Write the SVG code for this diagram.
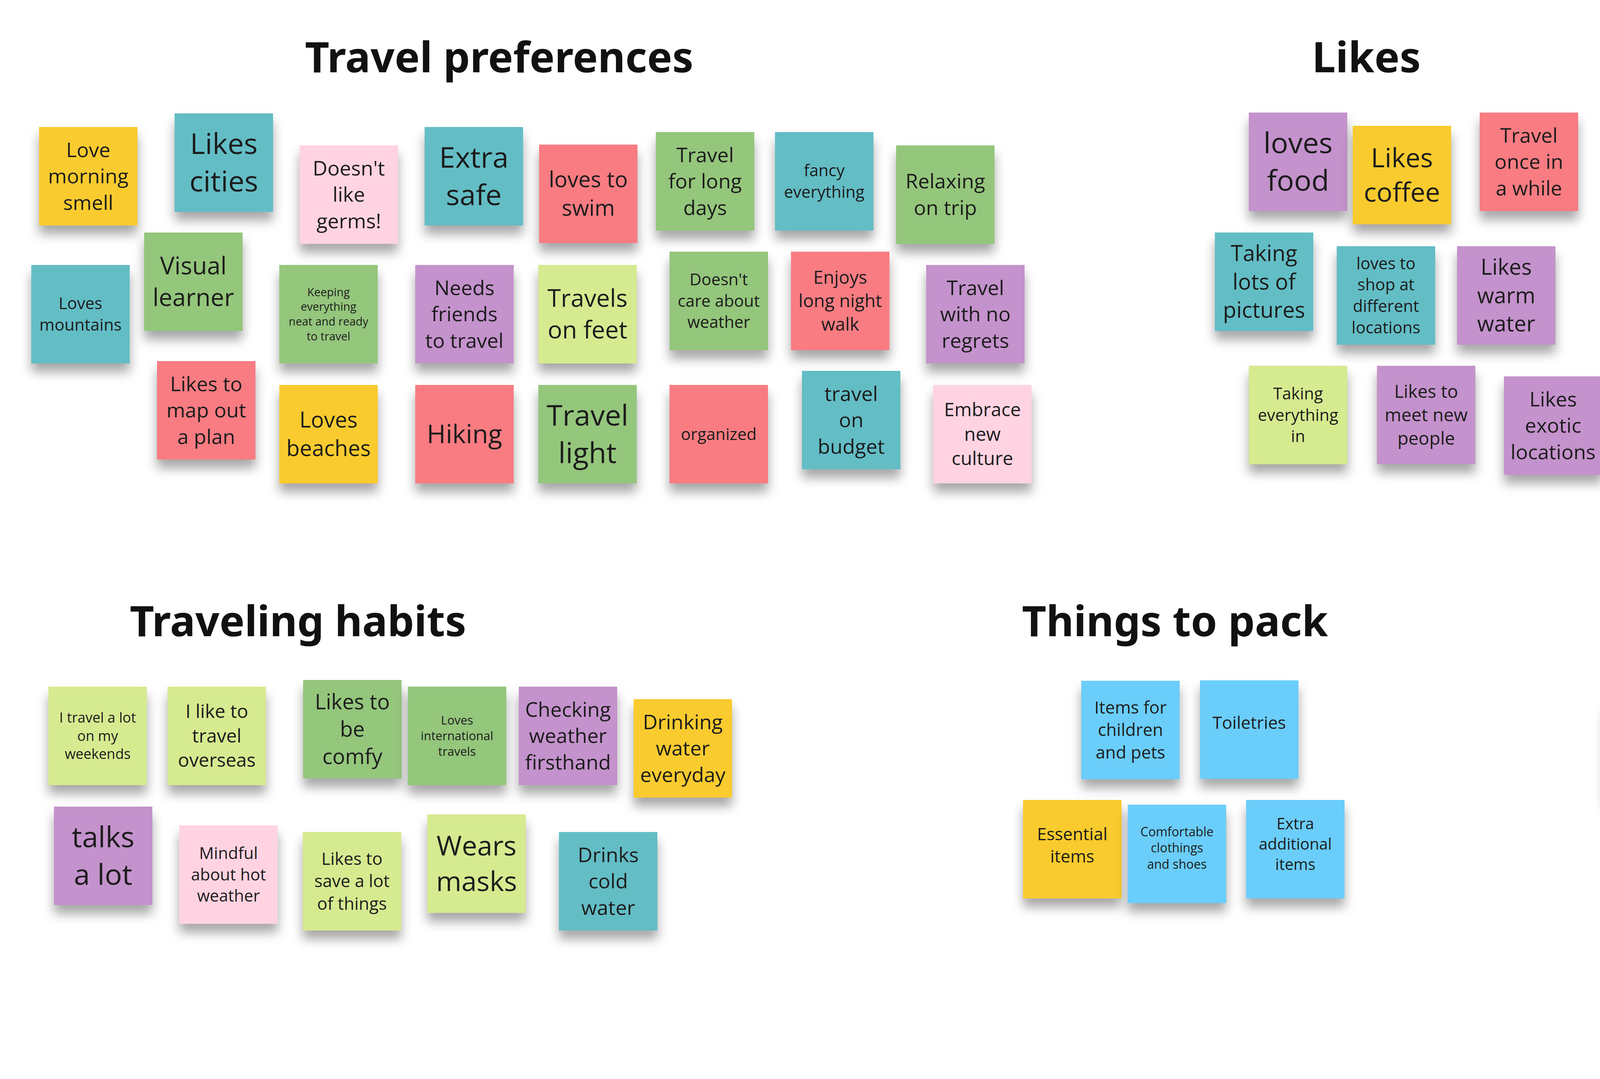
<svg xmlns="http://www.w3.org/2000/svg" width="7619" height="2761" viewBox="0 0 7619 2761">
<defs>
<filter id="sh" x="-20%" y="-20%" width="140%" height="150%"><feDropShadow dx="0" dy="22" stdDeviation="14" flood-color="#000" flood-opacity="0.35"/></filter>
</defs>
<style>
rect{filter:url(#sh)}
text{font-family:"Open Sans","Noto Sans",sans-serif;fill:#1c1c1c;text-anchor:middle}
.t{font-family:"Noto Sans","Open Sans",sans-serif;font-weight:bold;font-size:108px;fill:#111}
.y{fill:#F9CB2F}.c{fill:#63BDC5}.p{fill:#FFD3E2}.r{fill:#F87B82}.g{fill:#94C67C}.v{fill:#C492CC}.l{fill:#D6EA90}.b{fill:#6ACDFA}
.L{font-size:74px}.K{font-size:62px}.M{font-size:52px}.S{font-size:42px}.X{font-size:29px}
</style>
<rect width="7619" height="2761" fill="#fff" style="filter:none"/>
<g id="titles">
<text class="t" x="1278" y="185">Travel preferences</text>
<text class="t" x="3498" y="185">Likes</text>
<text class="t" x="4980" y="185">Dislikes</text>
<text class="t" x="6730" y="185">Features wanted</text>
<text class="t" x="763" y="1628">Traveling habits</text>
<text class="t" x="3008" y="1628">Things to pack</text>
<text class="t" x="4703" y="1628">Travelers</text>
</g>
<g id="connectors"/>
<g id="n1"><rect class="y" x="100" y="325" width="252" height="252"/><text class="M" x="226" y="451"><tspan x="226" dy="-0.95em">Love</tspan><tspan x="226" dy="1.3em">morning</tspan><tspan x="226" dy="1.3em">smell</tspan></text></g>
<g id="n2"><rect class="c" x="447" y="290" width="252" height="252"/><text class="L" x="573" y="416"><tspan x="573" dy="-0.3em">Likes</tspan><tspan x="573" dy="1.3em">cities</tspan></text></g>
<g id="n3"><rect class="p" x="767" y="372" width="252" height="252"/><text class="M" x="893" y="498"><tspan x="893" dy="-0.95em">Doesn't</tspan><tspan x="893" dy="1.3em">like</tspan><tspan x="893" dy="1.3em">germs!</tspan></text></g>
<g id="n4"><rect class="c" x="1087" y="325" width="252" height="252"/><text class="L" x="1213" y="451"><tspan x="1213" dy="-0.3em">Extra</tspan><tspan x="1213" dy="1.3em">safe</tspan></text></g>
<g id="n5"><rect class="r" x="1380" y="370" width="252" height="252"/><text class="K" x="1506" y="496" style="font-size:56px"><tspan x="1506" dy="-0.3em">loves to</tspan><tspan x="1506" dy="1.3em">swim</tspan></text></g>
<g id="n6"><rect class="g" x="1679" y="338" width="252" height="252"/><text class="M" x="1805" y="464"><tspan x="1805" dy="-0.95em">Travel</tspan><tspan x="1805" dy="1.3em">for long</tspan><tspan x="1805" dy="1.3em">days</tspan></text></g>
<g id="n7"><rect class="c" x="1984" y="338" width="252" height="252"/><text class="S" x="2110" y="464"><tspan x="2110" dy="-0.3em">fancy</tspan><tspan x="2110" dy="1.3em">everything</tspan></text></g>
<g id="n8"><rect class="g" x="2294" y="372" width="252" height="252"/><text class="M" x="2420" y="498"><tspan x="2420" dy="-0.3em">Relaxing</tspan><tspan x="2420" dy="1.3em">on trip</tspan></text></g>
<g id="n9"><rect class="c" x="80" y="678" width="252" height="252"/><text class="S" x="206" y="804"><tspan x="206" dy="-0.3em">Loves</tspan><tspan x="206" dy="1.3em">mountains</tspan></text></g>
<g id="n10"><rect class="g" x="369" y="595" width="252" height="252"/><text class="K" x="495" y="721"><tspan x="495" dy="-0.3em">Visual</tspan><tspan x="495" dy="1.3em">learner</tspan></text></g>
<g id="n11"><rect class="g" x="715" y="678" width="252" height="252"/><text class="X" x="841" y="804"><tspan x="841" dy="-1.6em">Keeping</tspan><tspan x="841" dy="1.3em">everything</tspan><tspan x="841" dy="1.3em">neat and ready</tspan><tspan x="841" dy="1.3em">to travel</tspan></text></g>
<g id="n12"><rect class="v" x="1063" y="678" width="252" height="252"/><text class="M" x="1189" y="804"><tspan x="1189" dy="-0.95em">Needs</tspan><tspan x="1189" dy="1.3em">friends</tspan><tspan x="1189" dy="1.3em">to travel</tspan></text></g>
<g id="n13"><rect class="l" x="1378" y="678" width="252" height="252"/><text class="K" x="1504" y="804"><tspan x="1504" dy="-0.3em">Travels</tspan><tspan x="1504" dy="1.3em">on feet</tspan></text></g>
<g id="n14"><rect class="g" x="1714" y="644" width="252" height="252"/><text class="S" x="1840" y="770"><tspan x="1840" dy="-0.95em">Doesn't</tspan><tspan x="1840" dy="1.3em">care about</tspan><tspan x="1840" dy="1.3em">weather</tspan></text></g>
<g id="n15"><rect class="r" x="2025" y="644" width="252" height="252"/><text class="S" x="2151" y="770" style="font-size:46px"><tspan x="2151" dy="-0.95em">Enjoys</tspan><tspan x="2151" dy="1.3em">long night</tspan><tspan x="2151" dy="1.3em">walk</tspan></text></g>
<g id="n16"><rect class="v" x="2371" y="678" width="252" height="252"/><text class="M" x="2497" y="804"><tspan x="2497" dy="-0.95em">Travel</tspan><tspan x="2497" dy="1.3em">with no</tspan><tspan x="2497" dy="1.3em">regrets</tspan></text></g>
<g id="n17"><rect class="r" x="402" y="924" width="252" height="252"/><text class="M" x="528" y="1050"><tspan x="528" dy="-0.95em">Likes to</tspan><tspan x="528" dy="1.3em">map out</tspan><tspan x="528" dy="1.3em">a plan</tspan></text></g>
<g id="n18"><rect class="y" x="715" y="985" width="252" height="252"/><text class="M" x="841" y="1111" style="font-size:56px"><tspan x="841" dy="-0.3em">Loves</tspan><tspan x="841" dy="1.3em">beaches</tspan></text></g>
<g id="n19"><rect class="r" x="1063" y="985" width="252" height="252"/><text class="K" x="1189" y="1111" style="font-size:66px"><tspan x="1189" dy="0.35em">Hiking</tspan></text></g>
<g id="n20"><rect class="g" x="1378" y="985" width="252" height="252"/><text class="L" x="1504" y="1111"><tspan x="1504" dy="-0.3em">Travel</tspan><tspan x="1504" dy="1.3em">light</tspan></text></g>
<g id="n21"><rect class="r" x="1714" y="985" width="252" height="252"/><text class="S" x="1840" y="1111"><tspan x="1840" dy="0.35em">organized</tspan></text></g>
<g id="n22"><rect class="c" x="2053" y="949" width="252" height="252"/><text class="M" x="2179" y="1075"><tspan x="2179" dy="-0.95em">travel</tspan><tspan x="2179" dy="1.3em">on</tspan><tspan x="2179" dy="1.3em">budget</tspan></text></g>
<g id="n23"><rect class="p" x="2389" y="985" width="252" height="252"/><text class="M" x="2515" y="1111" style="font-size:48px"><tspan x="2515" dy="-0.95em">Embrace</tspan><tspan x="2515" dy="1.3em">new</tspan><tspan x="2515" dy="1.3em">culture</tspan></text></g>

<g id="k1"><rect class="v" x="3197" y="288" width="252" height="252"/><text class="L" x="3323" y="414"><tspan x="3323" dy="-0.3em">loves</tspan><tspan x="3323" dy="1.3em">food</tspan></text></g>
<g id="k2"><rect class="y" x="3463" y="322" width="252" height="252"/><text class="K" x="3589" y="448" style="font-size:68px"><tspan x="3589" dy="-0.3em">Likes</tspan><tspan x="3589" dy="1.3em">coffee</tspan></text></g>
<g id="k3"><rect class="r" x="3788" y="288" width="252" height="252"/><text class="M" x="3914" y="414"><tspan x="3914" dy="-0.95em">Travel</tspan><tspan x="3914" dy="1.3em">once in</tspan><tspan x="3914" dy="1.3em">a while</tspan></text></g>
<g id="k4"><rect class="c" x="3110" y="595" width="252" height="252"/><text class="M" x="3236" y="721" style="font-size:56px"><tspan x="3236" dy="-0.95em">Taking</tspan><tspan x="3236" dy="1.3em">lots of</tspan><tspan x="3236" dy="1.3em">pictures</tspan></text></g>
<g id="k5"><rect class="c" x="3422" y="630" width="252" height="252"/><text class="S" x="3548" y="756"><tspan x="3548" dy="-1.6em">loves to</tspan><tspan x="3548" dy="1.3em">shop at</tspan><tspan x="3548" dy="1.3em">different</tspan><tspan x="3548" dy="1.3em">locations</tspan></text></g>
<g id="k6"><rect class="v" x="3730" y="630" width="252" height="252"/><text class="M" x="3856" y="756" style="font-size:56px"><tspan x="3856" dy="-0.95em">Likes</tspan><tspan x="3856" dy="1.3em">warm</tspan><tspan x="3856" dy="1.3em">water</tspan></text></g>
<g id="k7"><rect class="l" x="3197" y="936" width="252" height="252"/><text class="S" x="3323" y="1062"><tspan x="3323" dy="-0.95em">Taking</tspan><tspan x="3323" dy="1.3em">everything</tspan><tspan x="3323" dy="1.3em">in</tspan></text></g>
<g id="k8"><rect class="v" x="3525" y="936" width="252" height="252"/><text class="S" x="3651" y="1062" style="font-size:46px"><tspan x="3651" dy="-0.95em">Likes to</tspan><tspan x="3651" dy="1.3em">meet new</tspan><tspan x="3651" dy="1.3em">people</tspan></text></g>
<g id="k9"><rect class="v" x="3850" y="963" width="252" height="252"/><text class="M" x="3976" y="1089"><tspan x="3976" dy="-0.95em">Likes</tspan><tspan x="3976" dy="1.3em">exotic</tspan><tspan x="3976" dy="1.3em">locations</tspan></text></g>

<g id="d1"><rect class="r" x="4639" y="351" width="252" height="252"/><text class="L" x="4765" y="477"><tspan x="4765" dy="-0.3em">Jet lag</tspan><tspan x="4765" dy="1.3em">sucks</tspan></text></g>
<g id="d2"><rect class="c" x="4934" y="394" width="252" height="252"/><text class="S" x="5060" y="520" style="font-size:38px"><tspan x="5060" dy="-1.6em">Don't know</tspan><tspan x="5060" dy="1.3em">how to</tspan><tspan x="5060" dy="1.3em">prevent jet</tspan><tspan x="5060" dy="1.3em">lag</tspan></text></g>
<g id="d3"><rect class="v" x="5230" y="288" width="252" height="252"/><text class="S" x="5356" y="414" style="font-size:38px"><tspan x="5356" dy="-1.6em">Sudden</tspan><tspan x="5356" dy="1.3em">shift in</tspan><tspan x="5356" dy="1.3em">weather</tspan><tspan x="5356" dy="1.3em">sucks</tspan></text></g>
<g id="d4"><rect class="g" x="4667" y="657" width="252" height="252"/><text class="S" x="4793" y="783" style="font-size:38px"><tspan x="4793" dy="-0.3em">Mind about</tspan><tspan x="4793" dy="1.3em">mosquitoes</tspan></text></g>
<g id="d5"><rect class="g" x="4962" y="701" width="252" height="252"/><text class="M" x="5088" y="827" style="font-size:56px"><tspan x="5088" dy="-0.95em">Hot and</tspan><tspan x="5088" dy="1.3em">dry</tspan><tspan x="5088" dy="1.3em">weather</tspan></text></g>
<g id="d6"><rect class="y" x="5300" y="596" width="252" height="252"/><text class="S" x="5426" y="722" style="font-size:48px"><tspan x="5426" dy="-0.95em">Don't like</tspan><tspan x="5426" dy="1.3em">heavy</tspan><tspan x="5426" dy="1.3em">traffic</tspan></text></g>
<g id="d7"><rect class="g" x="5264" y="903" width="252" height="252"/><text class="L" x="5390" y="1029" style="font-size:80px"><tspan x="5390" dy="-0.3em">Travel</tspan><tspan x="5390" dy="1.3em">heavy</tspan></text></g>

<g id="f1"><rect class="v" x="6114" y="411" width="252" height="252"/><text class="L" x="6240" y="537" style="font-size:84px"><tspan x="6240" dy="-0.3em">dark</tspan><tspan x="6240" dy="1.3em">mode</tspan></text></g>
<g id="f2"><rect class="c" x="6426" y="300" width="252" height="252"/><text class="M" x="6552" y="426" style="font-size:56px"><tspan x="6552" dy="-0.3em">delete</tspan><tspan x="6552" dy="1.3em">account</tspan></text></g>
<g id="f3"><rect class="v" x="6737" y="303" width="252" height="252"/><text class="X" x="6863" y="429" style="font-size:28px"><tspan x="6863" dy="-0.3em">Wants</tspan><tspan x="6863" dy="1.3em">customization</tspan></text></g>
<g id="f4"><rect class="g" x="7082" y="300" width="252" height="252"/><text class="K" x="7208" y="426"><tspan x="7208" dy="-0.3em">custom</tspan><tspan x="7208" dy="1.3em">profile</tspan></text></g>
<g id="f5"><rect class="l" x="6112" y="763" width="252" height="252"/><text class="M" x="6238" y="889" style="font-size:50px"><tspan x="6238" dy="-0.3em">edit</tspan><tspan x="6238" dy="1.3em">accounts</tspan></text></g>
<g id="f6"><rect class="v" x="6405" y="676" width="252" height="252"/><text class="S" x="6531" y="802"><tspan x="6531" dy="-0.95em">Staying</tspan><tspan x="6531" dy="1.3em">informed</tspan><tspan x="6531" dy="1.3em">at all times</tspan></text></g>
<g id="f7"><rect class="c" x="6706" y="630" width="252" height="252"/><text class="S" x="6832" y="756" style="font-size:38px"><tspan x="6832" dy="-1.6em">Wants to</tspan><tspan x="6832" dy="1.3em">save</tspan><tspan x="6832" dy="1.3em">certain</tspan><tspan x="6832" dy="1.3em">locations</tspan></text></g>
<g id="f8"><rect class="v" x="6974" y="630" width="252" height="252"/><text class="S" x="7100" y="756"><tspan x="7100" dy="-0.95em">wants to</tspan><tspan x="7100" dy="1.3em">know best</tspan><tspan x="7100" dy="1.3em">deals</tspan></text></g>
<g id="f9"><rect class="l" x="7287" y="630" width="252" height="252"/><text class="S" x="7413" y="756" style="font-size:35px"><tspan x="7413" dy="-0.95em">Loves to</tspan><tspan x="7413" dy="1.3em">read about</tspan><tspan x="7413" dy="1.3em">the location</tspan></text></g>
<g id="f10"><rect class="g" x="6158" y="1113" width="252" height="252"/><text class="S" x="6284" y="1239" style="font-size:38px"><tspan x="6284" dy="-0.95em">Wants to</tspan><tspan x="6284" dy="1.3em">make</tspan><tspan x="6284" dy="1.3em">a travel list</tspan></text></g>
<g id="f11"><rect class="g" x="6469" y="1027" width="252" height="252"/><text class="M" x="6595" y="1153"><tspan x="6595" dy="-0.3em">traveling</tspan><tspan x="6595" dy="1.3em">planner</tspan></text></g>
<g id="f12"><rect class="v" x="6825" y="983" width="252" height="252"/><text class="M" x="6951" y="1109"><tspan x="6951" dy="-0.95em">Having</tspan><tspan x="6951" dy="1.3em">a travel</tspan><tspan x="6951" dy="1.3em">bag</tspan></text></g>
<g id="f13"><rect class="p" x="7116" y="983" width="252" height="252"/><text class="S" x="7242" y="1109" style="font-size:38px"><tspan x="7242" dy="-1.6em">Need</tspan><tspan x="7242" dy="1.3em">a map to</tspan><tspan x="7242" dy="1.3em">show my</tspan><tspan x="7242" dy="1.3em">location</tspan></text></g>
<g id="f14"><rect class="y" x="6158" y="1460" width="252" height="252"/><text class="S" x="6284" y="1586" style="font-size:46px"><tspan x="6284" dy="-0.95em">Want to</tspan><tspan x="6284" dy="1.3em">search up</tspan><tspan x="6284" dy="1.3em">places</tspan></text></g>
<g id="f15"><rect class="l" x="6469" y="1375" width="252" height="252"/><text class="S" x="6595" y="1501" style="font-size:46px"><tspan x="6595" dy="-0.95em">Wants to</tspan><tspan x="6595" dy="1.3em">share to</tspan><tspan x="6595" dy="1.3em">friends</tspan></text></g>
<g id="f16"><rect class="y" x="6825" y="1332" width="252" height="252"/><text class="S" x="6951" y="1458" style="font-size:36px"><tspan x="6951" dy="-1.6em">prefers if</tspan><tspan x="6951" dy="1.3em">there's</tspan><tspan x="6951" dy="1.3em">a plan for</tspan><tspan x="6951" dy="1.3em">travelers</tspan></text></g>
<g id="f17"><rect class="g" x="7137" y="1289" width="252" height="252"/><text class="S" x="7263" y="1415" style="font-size:46px"><tspan x="7263" dy="-0.95em">Reading</tspan><tspan x="7263" dy="1.3em">about the</tspan><tspan x="7263" dy="1.3em">location</tspan></text></g>

<g id="h1"><rect class="l" x="124" y="1757" width="252" height="252"/><text class="S" x="250" y="1883" style="font-size:36px"><tspan x="250" dy="-0.95em">I travel a lot</tspan><tspan x="250" dy="1.3em">on my</tspan><tspan x="250" dy="1.3em">weekends</tspan></text></g>
<g id="h2"><rect class="l" x="429" y="1757" width="252" height="252"/><text class="M" x="555" y="1883" style="font-size:48px"><tspan x="555" dy="-0.95em">I like to</tspan><tspan x="555" dy="1.3em">travel</tspan><tspan x="555" dy="1.3em">overseas</tspan></text></g>
<g id="h3"><rect class="g" x="776" y="1740" width="252" height="252"/><text class="M" x="902" y="1866" style="font-size:54px"><tspan x="902" dy="-0.95em">Likes to</tspan><tspan x="902" dy="1.3em">be</tspan><tspan x="902" dy="1.3em">comfy</tspan></text></g>
<g id="h4"><rect class="g" x="1044" y="1757" width="252" height="252"/><text class="X" x="1170" y="1883" style="font-size:31px"><tspan x="1170" dy="-0.95em">Loves</tspan><tspan x="1170" dy="1.3em">international</tspan><tspan x="1170" dy="1.3em">travels</tspan></text></g>
<g id="h5"><rect class="v" x="1328" y="1757" width="252" height="252"/><text class="M" x="1454" y="1883"><tspan x="1454" dy="-0.95em">Checking</tspan><tspan x="1454" dy="1.3em">weather</tspan><tspan x="1454" dy="1.3em">firsthand</tspan></text></g>
<g id="h6"><rect class="y" x="1622" y="1789" width="252" height="252"/><text class="M" x="1748" y="1915"><tspan x="1748" dy="-0.95em">Drinking</tspan><tspan x="1748" dy="1.3em">water</tspan><tspan x="1748" dy="1.3em">everyday</tspan></text></g>
<g id="h7"><rect class="v" x="138" y="2064" width="252" height="252"/><text class="L" x="264" y="2190"><tspan x="264" dy="-0.3em">talks</tspan><tspan x="264" dy="1.3em">a lot</tspan></text></g>
<g id="h8"><rect class="p" x="459" y="2112" width="252" height="252"/><text class="S" x="585" y="2238"><tspan x="585" dy="-0.95em">Mindful</tspan><tspan x="585" dy="1.3em">about hot</tspan><tspan x="585" dy="1.3em">weather</tspan></text></g>
<g id="h9"><rect class="l" x="775" y="2129" width="252" height="252"/><text class="S" x="901" y="2255" style="font-size:44px"><tspan x="901" dy="-0.95em">Likes to</tspan><tspan x="901" dy="1.3em">save a lot</tspan><tspan x="901" dy="1.3em">of things</tspan></text></g>
<g id="h10"><rect class="l" x="1094" y="2084" width="252" height="252"/><text class="L" x="1220" y="2210" style="font-size:70px"><tspan x="1220" dy="-0.3em">Wears</tspan><tspan x="1220" dy="1.3em">masks</tspan></text></g>
<g id="h11"><rect class="c" x="1431" y="2129" width="252" height="252"/><text class="M" x="1557" y="2255"><tspan x="1557" dy="-0.95em">Drinks</tspan><tspan x="1557" dy="1.3em">cold</tspan><tspan x="1557" dy="1.3em">water</tspan></text></g>

<g id="t1"><rect class="b" x="2768" y="1742" width="252" height="252"/><text class="S" x="2894" y="1868" style="font-size:44px"><tspan x="2894" dy="-0.95em">Items for</tspan><tspan x="2894" dy="1.3em">children</tspan><tspan x="2894" dy="1.3em">and pets</tspan></text></g>
<g id="t2"><rect class="b" x="3072" y="1741" width="252" height="252"/><text class="S" x="3198" y="1850" style="font-size:44px"><tspan x="3198" dy="0.35em">Toiletries</tspan></text></g>
<g id="t3"><rect class="y" x="2619" y="2047" width="252" height="252"/><text class="S" x="2745" y="2163" style="font-size:44px"><tspan x="2745" dy="-0.3em">Essential</tspan><tspan x="2745" dy="1.3em">items</tspan></text></g>
<g id="t4"><rect class="b" x="2887" y="2059" width="252" height="252"/><text class="X" x="3013" y="2170" style="font-size:32px"><tspan x="3013" dy="-0.95em">Comfortable</tspan><tspan x="3013" dy="1.3em">clothings</tspan><tspan x="3013" dy="1.3em">and shoes</tspan></text></g>
<g id="t5"><rect class="b" x="3190" y="2047" width="252" height="252"/><text class="S" x="3316" y="2160" style="font-size:40px"><tspan x="3316" dy="-0.95em">Extra</tspan><tspan x="3316" dy="1.3em">additional</tspan><tspan x="3316" dy="1.3em">items</tspan></text></g>

<g id="r1"><rect class="c" x="4110" y="1792" width="252" height="252"/><text class="S" x="4236" y="1918" style="font-size:46px"><tspan x="4236" dy="-0.3em">Work</tspan><tspan x="4236" dy="1.3em">traveling</tspan></text></g>
<g id="r2"><rect class="c" x="4417" y="1742" width="252" height="252"/><text class="S" x="4543" y="1840" style="font-size:46px"><tspan x="4543" dy="-0.3em">Gamer</tspan><tspan x="4543" dy="1.3em">traveling</tspan></text></g>
<g id="r3"><rect class="v" x="4719" y="1792" width="252" height="252"/><text class="M" x="4845" y="1900" style="font-size:56px"><tspan x="4845" dy="0.35em">Driving</tspan></text></g>
<g id="r4"><rect class="y" x="4986" y="1856" width="252" height="252"/><text class="K" x="5112" y="1970" style="font-size:66px"><tspan x="5112" dy="0.35em">Flying</tspan></text></g>
<g id="r5"><rect class="c" x="4185" y="2140" width="252" height="252"/><text class="K" x="4311" y="2266" style="font-size:64px"><tspan x="4311" dy="-0.3em">Large</tspan><tspan x="4311" dy="1.3em">family</tspan></text></g>
<g id="r6"><rect class="y" x="4451" y="2099" width="252" height="252"/><text class="K" x="4577" y="2200" style="font-size:66px"><tspan x="4577" dy="-0.3em">Early</tspan><tspan x="4577" dy="1.3em">bird</tspan></text></g>
<g id="r7"><rect class="v" x="4720" y="2141" width="252" height="252"/><text class="K" x="4846" y="2260" style="font-size:70px"><tspan x="4846" dy="-0.3em">Night</tspan><tspan x="4846" dy="1.3em">owl</tspan></text></g>
<g id="r8"><rect class="c" x="5038" y="2206" width="252" height="252"/><text class="M" x="5164" y="2332" style="font-size:56px"><tspan x="5164" dy="-0.3em">Travels</tspan><tspan x="5164" dy="1.3em">alone</tspan></text></g>
<g id="r9"><rect class="v" x="4452" y="2447" width="252" height="252"/><text class="S" x="4578" y="2573" style="font-size:46px"><tspan x="4578" dy="-0.95em">Travels</tspan><tspan x="4578" dy="1.3em">with</tspan><tspan x="4578" dy="1.3em">children</tspan></text></g>
<g id="r10"><rect class="v" x="4769" y="2480" width="252" height="252"/><text class="S" x="4895" y="2606" style="font-size:36px"><tspan x="4895" dy="-1.6em">I like to</tspan><tspan x="4895" dy="1.3em">bring my</tspan><tspan x="4895" dy="1.3em">pets with</tspan><tspan x="4895" dy="1.3em">me</tspan></text></g>
</svg>
